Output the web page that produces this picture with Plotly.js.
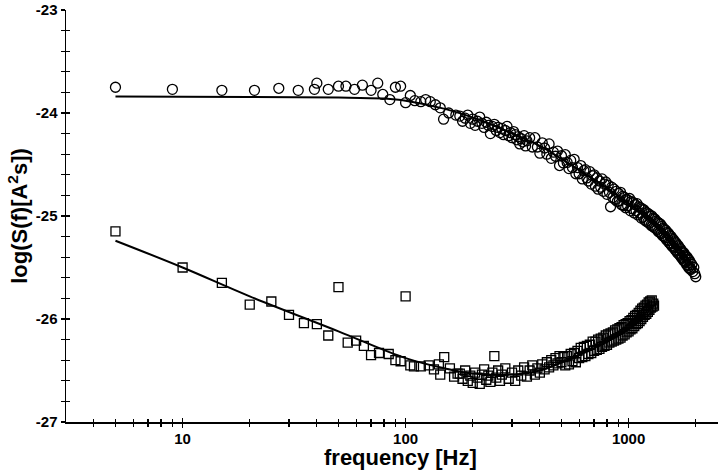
<!DOCTYPE html>
<html>
<head>
<meta charset="utf-8">
<script src="https://cdn.plot.ly/plotly-3.0.1.min.js"></script>
<style>html,body{margin:0;padding:0;background:#fff;}#chart{width:720px;height:470px;}</style>
</head>
<body>
<div id="chart"></div>
<script>
// Upper series (circles): frequency [Hz] and log S(f)
const circleFreq = [5,9,15,21,27,33,39,40,45,50,54,59,64,70,75,79,85,90,95,100,105,110,117,123,129,136,143,148,156,168,
175,180,185,190,195,200,205,210,215,220,225,230,235,240,245,250,255,260,265,270,275,280,285,290,295,300,305,310,315,320,325,330,335,340,345,350,
360,370,380,390,400,410,420,430,440,450,460,470,480,490,500,510,520,530,540,550,560,570,580,590,600,610,620,630,640,650,660,670,680,690,700,710,720,730,740,750,760,770,780,790,800,810,820,830,840,850,860,870,880,890,900,910,920,930,940,950,960,970,980,990,1000,
1010,1020,1030,1040,1050,1060,1070,1080,1090,1100,1110,1120,1130,1140,1150,1160,1170,1180,1190,1200,1210,1220,1230,1240,1250,1260,1270,1280,1290,1300,1310,1320,1330,1340,1350,1360,1370,1380,1390,1400,1410,1420,1430,1440,1450,1460,1470,1480,1490,1500,
1510,1520,1530,1540,1550,1560,1570,1580,1590,1600,1610,1620,1630,1640,1650,1660,1670,1680,1690,1700,1710,1720,1730,1740,1750,1760,1770,1780,1790,1800,1810,1820,1830,1840,1850,1860,1870,1880,1890,1900,1920,1940,1960,1980,2000];
const circleVal = [-23.75,-23.77,-23.78,-23.78,-23.76,-23.78,-23.77,-23.71,-23.77,-23.74,-23.74,-23.77,-23.73,-23.78,-23.71,-23.82,-23.87,-23.75,-23.74,-23.9,-23.83,-23.88,-23.89,-23.87,-23.89,-23.92,-23.95,-24.06,-24.0,-24.02,
-24.03,-24.08,-24.05,-24.02,-24.1,-24.06,-24.12,-24.08,-24.04,-24.1,-24.14,-24.09,-24.12,-24.2,-24.13,-24.11,-24.17,-24.14,-24.19,-24.15,-24.21,-24.17,-24.13,-24.22,-24.19,-24.24,-24.18,-24.21,-24.26,-24.23,-24.3,-24.25,-24.28,-24.22,-24.32,-24.27,
-24.24,-24.33,-24.24,-24.33,-24.39,-24.29,-24.34,-24.4,-24.3,-24.44,-24.38,-24.42,-24.37,-24.51,-24.415,-24.485,-24.405,-24.48,-24.54,-24.46,-24.53,-24.45,-24.59,-24.53,-24.59,-24.51,-24.64,-24.56,-24.55,-24.63,-24.66,-24.57,-24.69,-24.61,-24.6,-24.71,-24.63,-24.74,-24.66,-24.72,-24.64,-24.76,-24.69,-24.67,-24.79,-24.7,-24.77,-24.91,-24.72,-24.82,-24.74,-24.84,-24.76,-24.86,-24.78,-24.85,-24.77,-24.89,-24.81,-24.9,-24.82,-24.92,-24.84,-24.9,-24.85,
-24.83,-24.95,-24.86,-24.93,-24.87,-24.97,-24.89,-24.95,-24.88,-24.99,-24.91,-24.97,-24.92,-25.02,-24.93,-25.01,-24.94,-25.04,-24.96,-25.05,-24.97,-25.06,-24.98,-25.07,-25.0,-25.09,-25.0,-25.1,-25.02,-25.11,-25.03,-25.12,-25.05,-25.13,-25.06,-25.15,-25.07,-25.16,-25.08,-25.17,-25.1,-25.19,-25.12,-25.2,-25.13,-25.21,-25.14,-25.23,-25.16,-25.24,
-25.17,-25.26,-25.19,-25.27,-25.2,-25.29,-25.22,-25.3,-25.23,-25.31,-25.25,-25.33,-25.26,-25.34,-25.28,-25.36,-25.29,-25.37,-25.31,-25.38,-25.32,-25.4,-25.34,-25.41,-25.35,-25.43,-25.36,-25.44,-25.38,-25.45,-25.39,-25.47,-25.4,-25.48,-25.42,-25.5,-25.43,-25.51,-25.45,-25.52,-25.47,-25.54,-25.5,-25.56,-25.59];

// Lower series (squares)
const squareFreq = [5,10,15,20,25,30,35,40,45,50,55,60,65,70,76,84,90,95,100,105,109,117,127,134,141,143,149,158,165,171,
175,180,185,190,195,200,205,210,215,220,225,230,235,240,245,250,255,260,265,270,280,290,300,310,320,330,340,350,360,370,380,390,400,410,420,430,440,450,460,470,480,490,500,
510,520,530,540,550,560,570,580,590,600,610,620,630,640,650,660,670,680,690,700,710,720,730,740,750,760,770,780,790,800,810,820,830,840,850,860,870,880,890,900,
910,920,930,940,950,960,970,980,990,1000,1010,1020,1030,1040,1050,1060,1070,1080,1090,1100,1110,1120,1130,1140,1150,1160,1170,1180,1190,1200,1210,1220,1230,1240,1250,1260,1270,1280,1290,1300];
const squareVal = [-25.15,-25.5,-25.65,-25.86,-25.83,-25.96,-26.04,-26.05,-26.16,-25.69,-26.23,-26.21,-26.26,-26.35,-26.33,-26.34,-26.4,-26.41,-25.78,-26.45,-26.46,-26.46,-26.45,-26.49,-26.44,-26.54,-26.37,-26.48,-26.56,-26.53,
-26.53,-26.58,-26.5,-26.6,-26.55,-26.62,-26.52,-26.57,-26.63,-26.54,-26.49,-26.59,-26.55,-26.61,-26.52,-26.36,-26.57,-26.5,-26.6,-26.54,-26.48,-26.58,-26.52,-26.6,-26.5,-26.55,-26.47,-26.56,-26.5,-26.45,-26.54,-26.48,-26.52,-26.44,-26.49,-26.42,-26.47,-26.4,-26.45,-26.38,-26.43,-26.36,-26.42,
-26.37,-26.45,-26.36,-26.44,-26.34,-26.41,-26.33,-26.42,-26.31,-26.38,-26.28,-26.37,-26.27,-26.36,-26.26,-26.34,-26.25,-26.33,-26.22,-26.31,-26.22,-26.3,-26.2,-26.29,-26.19,-26.27,-26.18,-26.26,-26.16,-26.25,-26.15,-26.23,-26.14,-26.22,-26.13,-26.21,-26.11,-26.2,-26.1,-26.19,
-26.09,-26.18,-26.08,-26.16,-26.06,-26.15,-26.05,-26.13,-26.04,-26.12,-26.02,-26.1,-26.01,-26.09,-25.99,-26.07,-25.97,-26.05,-25.96,-26.04,-25.94,-26.02,-25.92,-26.0,-25.9,-25.98,-25.89,-25.96,-25.87,-25.95,-25.86,-25.93,-25.84,-25.91,-25.83,-25.89,-25.82,-25.88,-25.85,-25.87];

// Fit curves
const fitUpperFreq = [5,20,50,80,100,150,217,300,400,495,650,830,1000,1256,1500,1700,2000];
const fitUpperVal  = [-23.84,-23.845,-23.85,-23.86,-23.88,-23.96,-24.07,-24.2,-24.32,-24.44,-24.6,-24.75,-24.88,-25.02,-25.19,-25.33,-25.5];
const fitLowerFreq = [5,10,20,50,100,150,200,300,400,600,800,1000,1300];
const fitLowerVal  = [-25.24,-25.5,-25.78,-26.12,-26.38,-26.48,-26.53,-26.54,-26.5,-26.35,-26.22,-26.1,-25.92];

// Axis ticks and titles
const xMajor = [10,100,1000];
const xMajorText = ['10','100','1000'];
const xMinor = [4,5,6,7,8,9,20,30,40,50,60,70,80,90,200,300,400,500,600,700,800,900,2000];
const yMajor = [-27,-26,-25,-24,-23];
const yMajorText = ['-27','-26','-25','-24','-23'];
const xTitle = 'frequency [Hz]';
const yTitle = 'log(S(f)[A<sup>2</sup>s])';

const FONT = 'Liberation Sans, Arial, sans-serif';
const xr = [Math.log10(3), Math.log10(3) + 652/223];
const yr = [-27, -23];
const tickFont = {family:FONT, size:15, color:'#000', weight:'bold'};

const traces = [
  {x:fitUpperFreq, y:fitUpperVal, mode:'lines', line:{color:'#000', width:2, shape:'spline'}, hoverinfo:'skip'},
  {x:fitLowerFreq, y:fitLowerVal, mode:'lines', line:{color:'#000', width:2, shape:'spline'}, hoverinfo:'skip'},
  {x:circleFreq, y:circleVal, mode:'markers', marker:{symbol:'circle-open', size:10, color:'#000', line:{width:1.3}}},
  {x:squareFreq, y:squareVal, mode:'markers', marker:{symbol:'square-open', size:9, color:'#000', line:{width:1.3}}},
  {x:[10], y:[-30], xaxis:'x2', yaxis:'y2', mode:'markers', marker:{size:1, opacity:0}, hoverinfo:'skip'}
];

const layout = {
  width:720, height:470,
  margin:{l:66, r:2, t:10, b:48},
  paper_bgcolor:'#fff', plot_bgcolor:'#fff',
  showlegend:false,
  font:{family:FONT, color:'#000'},
  xaxis:{type:'log', range:xr, showgrid:false, zeroline:false, showline:true, linecolor:'#000', linewidth:1.5,
    tickmode:'array', tickvals:xMajor, ticktext:xMajorText, ticks:'outside', ticklen:4, tickwidth:1.5, tickcolor:'#000',
    ticklabelstandoff:-2,
    minor:{tickmode:'array', tickvals:xMinor, ticks:'outside', ticklen:3, tickwidth:1.2, tickcolor:'#000', showgrid:false},
    tickfont:tickFont},
  yaxis:{range:yr, showgrid:false, zeroline:false, showline:true, linecolor:'#000', linewidth:1.5,
    tickmode:'array', tickvals:yMajor, ticktext:yMajorText, ticks:'outside', ticklen:4, tickwidth:1.5, tickcolor:'#000',
    minor:{tickmode:'linear', tick0:-27, dtick:0.2, ticks:'outside', ticklen:4, tickwidth:1.2, tickcolor:'#000', showgrid:false},
    tickfont:tickFont,
    title:{text:yTitle, font:{family:FONT, size:22, color:'#000', weight:'bold'}, standoff:2}},
  xaxis2:{type:'log', range:xr, overlaying:'x', anchor:'y2', showgrid:false, zeroline:false, showline:false, showticklabels:false,
    tickmode:'array', tickvals:xMajor, ticks:'inside', ticklen:4, tickwidth:1.5, tickcolor:'#000',
    minor:{tickmode:'array', tickvals:xMinor, ticks:'inside', ticklen:3, tickwidth:1.2, tickcolor:'#000', showgrid:false}},
  yaxis2:{range:yr, overlaying:'y', anchor:'x2', showgrid:false, zeroline:false, showline:false, showticklabels:false,
    tickmode:'array', tickvals:yMajor, ticks:'inside', ticklen:4, tickwidth:1.5, tickcolor:'#000',
    minor:{tickmode:'linear', tick0:-27, dtick:0.2, ticks:'inside', ticklen:4, tickwidth:1.2, tickcolor:'#000', showgrid:false}},
  annotations:[{text:xTitle, xref:'paper', yref:'paper', x:(400-66)/652, y:-(457-422)/412, xanchor:'center', yanchor:'middle',
    showarrow:false, font:{family:FONT, size:22, color:'#000', weight:'bold'}}]
};

Plotly.newPlot('chart', traces, layout, {staticPlot:true, displayModeBar:false});
</script>
</body>
</html>
